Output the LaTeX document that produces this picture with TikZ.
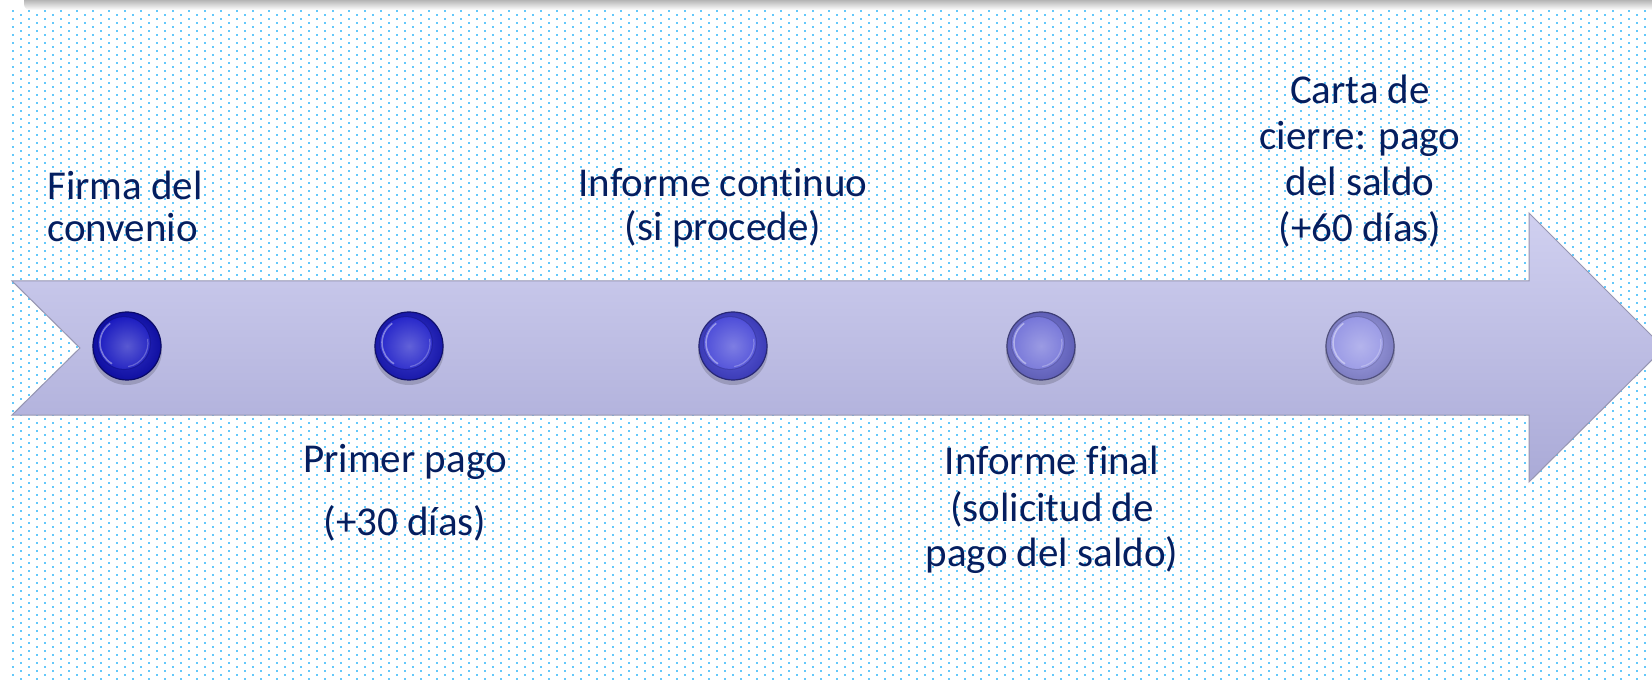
\documentclass[tikz,border=0pt]{standalone}
\usepackage{fontspec}
\setmainfont{Carlito}[Ligatures=CommonOff]
\definecolor{dotc}{RGB}{100,200,250}
\definecolor{txt}{RGB}{5,30,95}
\definecolor{arrtop}{RGB}{208,208,240}
\definecolor{arrbot}{RGB}{170,170,215}
\definecolor{arredge}{RGB}{150,150,178}
\definecolor{cA}{RGB}{18,18,190}
\definecolor{cB}{RGB}{30,30,200}
\definecolor{cC}{RGB}{70,70,215}
\definecolor{cD}{RGB}{112,112,215}
\definecolor{cE}{RGB}{148,148,228}
\begin{document}
\begin{tikzpicture}[x=1pt,y=1pt,
  lbl/.style={text=txt,font=\fontsize{41}{46}\selectfont,inner sep=0pt,anchor=base},
  mstone/.style={circle,minimum size=68pt,inner sep=0pt,draw=#1!55!black,line width=1.2pt,
    inner color=#1!85!white,outer color=#1!85!black,
    path picture={
      \shade[inner color=#1!70!white,outer color=#1] ([shift={(-3pt,3pt)}]path picture bounding box.center) circle (26pt);
      \draw[#1!60!black,opacity=.3,line width=1pt] ([shift={(-3pt,3pt)}]path picture bounding box.center) circle (26.5pt);
      \draw[white,opacity=.4,line width=1.6pt] ([shift={(-3pt,3pt)}]path picture bounding box.center) ++(125:24pt) arc (125:240:24pt);
      \draw[white,opacity=.25,line width=1.2pt] ([shift={(-3pt,3pt)}]path picture bounding box.center) ++(-80:24pt) arc (-80:10:24pt);
    }},
  mshadow/.style={fill=black,opacity=.16}
]
\useasboundingbox (0,0) rectangle (1652,681);
\fill[white] (0,0) rectangle (1652,681);
% dotted background
\foreach \r in {0,...,167}{
  \pgfmathsetmacro\yy{670-4*\r}
  \pgfmathsetmacro\xs{isodd(\r)?20:12}
  \draw[dotc,line width=2pt,dash pattern=on 2pt off 14pt] (\xs,\yy) -- (1652,\yy);
}
% top shadow band
\shade[top color=black!55,bottom color=white,rounded corners=6pt] (24,671) rectangle (1700,690);
% arrow
\shade[top color=arrtop,bottom color=arrbot,draw=arredge,line width=1pt]
  (12,400) -- (1529,400) -- (1529,468) -- (1664,333) -- (1529,199) -- (1529,266) -- (12,266) -- (80,333) -- cycle;
% milestones
\foreach \x in {127,409,733,1041,1360}{\fill[mshadow] (\x,331) circle (35pt);}
\node[mstone=cA] (m1) at (127,335) {};
\node[mstone=cB] (m2) at (409,335) {};
\node[mstone=cC] (m3) at (733,335) {};
\node[mstone=cD] (m4) at (1041,335) {};
\node[mstone=cE] (m5) at (1360,335) {};
% labels
\node[lbl,anchor=base west] (t1a) at (47,481) {Firma del};
\node[lbl,anchor=base west] (t1b) at (47,439) {convenio};
\node[lbl] (t2a) at (405,209) {Primer pago};
\node[lbl] (t2b) at (405,146) {(+30 días)};
\node[lbl] (t3a) at (723,484) {Informe continuo};
\node[lbl] (t3b) at (723,440) {(si procede)};
\node[lbl] (t4a) at (1052,207) {Informe final};
\node[lbl] (t4b) at (1052,160) {(solicitud de};
\node[lbl] (t4c) at (1052,115) {pago del saldo)};
\node[lbl] (t5a) at (1360,577) {Carta de};
\node[lbl] (t5b) at (1360,531) {cierre: pago};
\node[lbl] (t5c) at (1360,485) {del saldo};
\node[lbl] (t5d) at (1360,439) {(+60 días)};
\end{tikzpicture}
\end{document}
